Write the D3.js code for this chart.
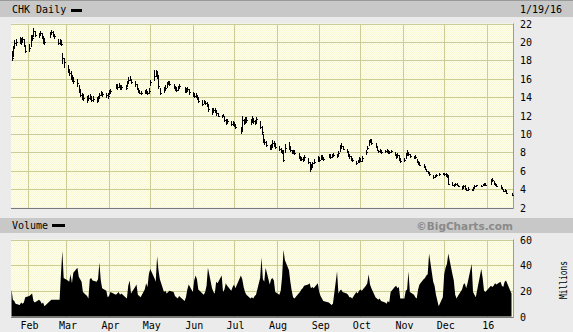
<!DOCTYPE html>
<html>
<head>
<meta charset="utf-8">
<script src="https://cdn.jsdelivr.net/npm/d3@7"></script>
<style>
  body { margin: 0; background: #ebebeb; }
  text { font-family: "DejaVu Sans Mono", monospace; font-size: 10px; }
</style>
</head>
<body>
<div id="chart"></div>
<script>

const TICKER = "CHK Daily";
const AS_OF = "1/19/16";

// NYSE holidays inside the window (trading calendar)
const HOLIDAYS = ["2015-02-16", "2015-04-03", "2015-05-25", "2015-07-03", "2015-09-07",
                  "2015-11-26", "2015-12-25", "2016-01-01", "2016-01-18"];

// daily closes, one row per month (Jan 20 2015 .. Jan 19 2016)
const closes = [
  18.3, 19.3, 19.9, 20.0, 20.2, 20.0, 20.3, 19.6, 19.0,
  19.3, 20.5, 20.4, 21.2, 20.8, 20.7, 21.0, 20.6, 20.1, 20.0, 20.9, 21.1, 20.8, 20.6, 19.9, 20.0, 19.8, 18.2, 17.8,
  16.9, 16.6, 16.2, 16.0, 15.7, 15.5, 14.7, 14.2, 14.0, 13.9, 13.7, 13.9, 14.0, 13.7, 13.8, 13.6, 13.9, 14.2, 14.4, 14.3, 14.2, 14.1,
  14.5, 14.7, 15.2, 15.1, 15.3, 14.9, 15.1, 15.0, 15.5, 15.9, 16.0, 15.6, 15.4, 15.0, 14.6, 14.5, 14.4, 14.5, 14.6, 14.4, 14.7,
  15.6, 16.3, 16.6, 16.4, 15.2, 14.5, 14.9, 15.0, 15.4, 15.6, 15.4, 15.1, 14.9, 14.8, 15.0, 15.2, 14.8, 14.7, 14.9, 14.6,
  14.3, 14.1, 14.2, 13.9, 13.6, 13.3, 13.5, 13.4, 13.2, 12.7, 12.4, 12.6, 12.5, 12.3, 12.0, 11.9, 12.0, 11.5, 11.3, 11.4, 11.1, 11.2,
  11.0, 10.8, 10.3, 11.5, 11.2, 11.6, 11.5, 11.3, 11.7, 11.4, 11.2, 11.6, 10.7, 10.2, 9.2, 9.1, 8.8, 8.5, 8.6, 9.0, 8.9, 8.6,
  8.4, 8.2, 8.0, 7.2, 8.5, 8.7, 8.2, 8.0, 8.1, 7.9, 7.5, 7.3, 7.3, 7.2, 7.5, 7.0, 6.3, 6.4, 6.8, 7.0, 7.4,
  7.2, 7.5, 7.4, 7.3, 7.6, 7.5, 7.6, 7.7, 7.6, 7.9, 8.6, 8.7, 8.4, 8.1, 7.7, 7.6, 7.3, 7.2, 6.8, 7.0, 7.3,
  7.1, 7.4, 8.0, 8.5, 9.1, 9.3, 9.0, 8.7, 8.3, 8.1, 8.2, 8.0, 8.1, 8.2, 7.9, 8.0, 8.1, 7.7, 7.5, 7.7, 7.3, 7.1,
  7.2, 7.7, 7.9, 7.8, 7.6, 7.4, 7.5, 7.0, 6.8, 6.6, 6.5, 6.2, 6.0, 5.8, 5.6, 5.3, 5.4, 5.5, 5.6, 5.7,
  5.6, 5.5, 5.4, 4.6, 4.5, 4.4, 4.6, 4.5, 4.3, 4.1, 4.3, 4.0, 3.9, 4.0, 3.9, 4.1, 4.3, 4.4, 4.3, 4.5, 4.6, 4.5,
  4.9, 5.0, 4.6, 4.5, 4.3, 4.2, 4.0, 3.8, 3.9, 3.6, 3.4
];

const highs = [
  19.0, 19.6, 20.2, 20.3, 20.5, 20.4, 20.5, 20.3, 19.7,
  19.8, 20.7, 20.8, 21.5, 21.2, 21.0, 21.2, 21.0, 20.5, 20.4, 21.1, 21.3, 21.2, 20.9, 20.3, 20.3, 20.2, 18.8, 18.3,
  17.5, 17.1, 16.8, 16.4, 16.2, 16.0, 15.3, 14.9, 14.4, 14.3, 14.1, 14.2, 14.3, 14.1, 14.1, 14.0, 14.1, 14.5, 14.7, 14.6, 14.5, 14.4,
  14.8, 14.9, 15.4, 15.4, 15.5, 15.3, 15.3, 15.3, 15.7, 16.2, 16.3, 16.0, 15.8, 15.4, 15.0, 14.8, 14.7, 14.8, 14.9, 14.7, 15.0,
  15.9, 16.9, 17.0, 16.8, 16.3, 15.0, 15.1, 15.3, 15.6, 15.8, 15.7, 15.4, 15.2, 15.1, 15.2, 15.4, 15.1, 15.0, 15.1, 14.9,
  14.6, 14.4, 14.4, 14.2, 14.0, 13.7, 13.7, 13.6, 13.5, 13.2, 12.8, 12.8, 12.8, 12.6, 12.3, 12.1, 12.2, 11.9, 11.6, 11.6, 11.4, 11.4,
  11.3, 11.1, 10.7, 11.9, 11.6, 11.8, 11.8, 11.6, 11.9, 11.7, 11.5, 11.8, 11.4, 10.9, 10.0, 9.5, 9.2, 8.8, 8.9, 9.3, 9.2, 9.0,
  8.7, 8.5, 8.3, 8.2, 8.9, 9.1, 8.6, 8.3, 8.3, 8.2, 7.9, 7.6, 7.5, 7.5, 7.7, 7.4, 6.9, 6.7, 7.0, 7.3, 7.6,
  7.5, 7.7, 7.7, 7.5, 7.8, 7.8, 7.8, 7.9, 7.8, 8.1, 8.8, 9.0, 8.7, 8.4, 8.0, 7.8, 7.6, 7.4, 7.1, 7.2, 7.5,
  7.4, 7.6, 8.2, 8.7, 9.3, 9.5, 9.4, 9.0, 8.7, 8.3, 8.4, 8.3, 8.3, 8.4, 8.2, 8.1, 8.3, 8.0, 7.8, 7.9, 7.7, 7.4,
  7.4, 7.9, 8.2, 8.0, 7.8, 7.6, 7.7, 7.3, 7.1, 6.9, 6.7, 6.5, 6.2, 6.0, 5.9, 5.5, 5.5, 5.6, 5.7, 5.8,
  5.8, 5.7, 5.6, 5.5, 4.8, 4.6, 4.7, 4.7, 4.5, 4.3, 4.4, 4.4, 4.1, 4.2, 4.0, 4.2, 4.4, 4.5, 4.5, 4.6, 4.7, 4.7,
  5.1, 5.2, 4.9, 4.7, 4.6, 4.4, 4.2, 4.0, 4.0, 3.8, 3.6
];

const lows = [
  17.9, 18.4, 19.2, 19.6, 19.8, 19.7, 19.9, 19.4, 18.8,
  18.9, 19.4, 20.1, 20.5, 20.5, 20.4, 20.6, 20.3, 19.8, 19.7, 20.4, 20.7, 20.5, 20.3, 19.7, 19.7, 19.6, 17.6, 17.2,
  16.6, 16.3, 15.9, 15.6, 15.4, 15.1, 14.5, 14.0, 13.7, 13.6, 13.4, 13.6, 13.7, 13.5, 13.5, 13.4, 13.6, 13.8, 14.1, 14.0, 13.9, 13.8,
  14.2, 14.4, 14.9, 14.8, 15.0, 14.8, 14.8, 14.8, 15.1, 15.5, 15.7, 15.4, 15.1, 14.8, 14.4, 14.3, 14.2, 14.3, 14.3, 14.2, 14.3,
  15.2, 15.8, 16.2, 16.0, 14.9, 14.2, 14.5, 14.7, 15.0, 15.3, 15.2, 14.9, 14.7, 14.6, 14.7, 14.9, 14.5, 14.5, 14.6, 14.2,
  14.0, 13.9, 13.9, 13.7, 13.4, 13.0, 13.2, 13.1, 12.9, 12.4, 12.1, 12.3, 12.3, 12.0, 11.8, 11.7, 11.8, 11.3, 11.0, 11.1, 10.9, 10.9,
  10.7, 10.5, 10.0, 10.2, 11.0, 11.2, 11.2, 11.0, 11.3, 11.1, 11.0, 11.2, 10.5, 9.9, 9.0, 8.8, 8.6, 8.2, 8.3, 8.6, 8.6, 8.4,
  8.1, 7.9, 7.8, 6.9, 7.9, 8.3, 8.0, 7.8, 7.8, 7.7, 7.3, 7.1, 7.1, 7.0, 7.2, 6.7, 5.9, 6.1, 6.4, 6.7, 7.0,
  7.0, 7.2, 7.2, 7.1, 7.4, 7.3, 7.4, 7.5, 7.4, 7.6, 8.0, 8.4, 8.2, 7.9, 7.5, 7.3, 7.1, 6.9, 6.6, 6.8, 7.0,
  6.9, 7.0, 7.7, 8.2, 8.7, 9.0, 8.8, 8.5, 8.2, 7.9, 7.9, 7.8, 7.9, 7.9, 7.8, 7.8, 7.9, 7.6, 7.3, 7.4, 7.1, 6.8,
  6.9, 7.3, 7.6, 7.6, 7.4, 7.3, 7.3, 6.9, 6.6, 6.5, 6.3, 6.1, 5.9, 5.7, 5.4, 5.1, 5.2, 5.3, 5.4, 5.5,
  5.4, 5.3, 5.2, 4.5, 4.3, 4.2, 4.4, 4.3, 4.2, 3.9, 4.0, 3.9, 3.8, 3.8, 3.8, 3.9, 4.1, 4.2, 4.2, 4.3, 4.4, 4.4,
  4.5, 4.8, 4.5, 4.3, 4.2, 4.0, 3.9, 3.7, 3.7, 3.5, 3.3
];

// daily volume, millions of shares
const volumes = [
  21, 13, 12, 10, 9, 11, 10, 11, 15,
  16, 17, 18, 12, 11, 13, 12, 10, 11, 8, 12, 13, 13, 13, 13, 13, 33, 51, 30,
  28, 27, 33, 26, 34, 38, 31, 29, 27, 19, 16, 14, 29, 30, 28, 27, 29, 42, 28, 22, 20, 15,
  16, 19, 17, 18, 19, 17, 18, 15, 14, 24, 28, 18, 23, 25, 17, 16, 15, 21, 26, 23, 33,
  37, 30, 27, 47, 36, 29, 19, 20, 18, 19, 20, 19, 16, 15, 14, 16, 12, 15, 21, 25,
  19, 28, 32, 29, 21, 18, 17, 19, 24, 38, 22, 19, 18, 27, 26, 32, 19, 21, 26, 24, 20, 23,
  25, 22, 32, 29, 23, 19, 17, 14, 15, 14, 16, 17, 30, 46, 29, 27, 38, 25, 29, 30, 28, 19,
  17, 20, 31, 52, 44, 36, 27, 20, 15, 14, 18, 19, 21, 22, 24, 25, 26, 22, 23, 22, 26,
  19, 16, 14, 12, 11, 10, 9, 10, 35, 18, 20, 21, 19, 18, 17, 15, 15, 14, 19, 18, 20,
  21, 20, 24, 26, 33, 25, 22, 15, 14, 13, 14, 12, 11, 10, 12, 11, 19, 23, 24, 22, 23, 14,
  14, 20, 21, 35, 19, 17, 15, 14, 21, 25, 29, 30, 32, 33, 49, 27, 24, 17, 8, 15,
  33, 38, 41, 49, 33, 28, 17, 14, 16, 21, 25, 26, 22, 26, 41, 19, 17, 15, 37, 30, 20, 19,
  24, 23, 24, 26, 25, 27, 24, 23, 27, 28, 18
];

const priceTicks = [2, 4, 6, 8, 10, 12, 14, 16, 18, 20, 22];
const volumeTicks = [0, 20, 40, 60];

const W = 573, H = 332;
const PLOT = { LEFT: 11, RIGHT: 513 };
const PRICE = { TOP: 23.5, BOTTOM: 207.5 };
const VOL = { TOP: 239.5, BOTTOM: 316.5 };
const GRID = "#cccc96";
const BAR_BG = "#c8c8c8";

const fmt = d3.timeFormat("%Y-%m-%d");
const days = d3.timeDay.range(new Date(2015, 0, 20), new Date(2016, 0, 20))
    .filter(d => d.getDay() !== 0 && d.getDay() !== 6 && !HOLIDAYS.includes(fmt(d)));

const data = days.map((d, i) => ({
    date: d, hi: highs[i], lo: lows[i], cl: closes[i], vol: volumes[i]
}));

const svg = d3.select("#chart")
    .append("svg")
    .attr("width", W)
    .attr("height", H)
    .style("display", "block");

svg.append("rect").attr("width", W).attr("height", H).attr("fill", "#ebebeb");

// dithered yellow plot background
const defs = svg.append("defs");
const pat = defs.append("pattern")
    .attr("id", "dither")
    .attr("width", 2).attr("height", 2)
    .attr("patternUnits", "userSpaceOnUse");
pat.append("rect").attr("width", 2).attr("height", 2).attr("fill", "#ffffee");
pat.append("rect").attr("width", 1).attr("height", 1).attr("fill", "#f7f7d2");
pat.append("rect").attr("x", 1).attr("y", 1).attr("width", 1).attr("height", 1).attr("fill", "#f7f7d2");

const x = d3.scaleTime()
    .domain([new Date(2015, 0, 20), new Date(2016, 0, 19)])
    .range([PLOT.LEFT + 0.5, PLOT.RIGHT - 1.5]);

const yPrice = d3.scaleLinear().domain([2, 22]).range([PRICE.BOTTOM, PRICE.TOP]);
const yVol = d3.scaleLinear().domain([0, 60]).range([VOL.BOTTOM, VOL.TOP]);

const months = d3.timeMonth.range(new Date(2015, 1, 1), new Date(2016, 0, 2));

// header bars
function headerBar(y, h) {
    svg.append("rect").attr("x", 0).attr("y", y).attr("width", W).attr("height", h).attr("fill", BAR_BG);
}
headerBar(0, 17);
svg.append("line").attr("x1", 0).attr("x2", W).attr("y1", 0.5).attr("y2", 0.5).attr("stroke", "#9a9a9a");
headerBar(218, 15);

svg.append("text").attr("x", 12).attr("y", 13).text(TICKER);
svg.append("rect").attr("x", 71).attr("y", 9).attr("width", 11).attr("height", 3).attr("fill", "#000");
svg.append("text").attr("x", 520).attr("y", 13).text(AS_OF);

svg.append("text").attr("x", 12).attr("y", 229).text("Volume");
svg.append("rect").attr("x", 52).attr("y", 224).attr("width", 13).attr("height", 3).attr("fill", "#000");
svg.append("text")
    .attr("x", PLOT.RIGHT).attr("y", 229.5)
    .attr("text-anchor", "end")
    .style("font-family", "'DejaVu Sans', sans-serif")
    .style("font-weight", "bold")
    .style("font-size", "10.5px")
    .attr("fill", "#8a8a8a")
    .text("\u00a9BigCharts.com");

// panels
function panel(top, bottom, yScale, ticks) {
    const h = bottom - top;
    svg.append("rect")
        .attr("x", PLOT.LEFT).attr("y", top)
        .attr("width", PLOT.RIGHT - PLOT.LEFT).attr("height", h)
        .attr("fill", "url(#dither)");

    // vertical month grid
    svg.append("g")
        .attr("transform", `translate(0, ${bottom})`)
        .call(d3.axisBottom(x).tickValues(months).tickSize(-h).tickFormat(""))
        .call(g => g.select(".domain").remove())
        .selectAll("line")
        .attr("stroke", GRID)
        .style("shape-rendering", "crispEdges");

    // horizontal grid + right labels
    const g = svg.append("g")
        .attr("transform", `translate(${PLOT.RIGHT}, 0)`)
        .call(d3.axisRight(yScale).tickValues(ticks).tickSize(-(PLOT.RIGHT - PLOT.LEFT)).tickPadding(7));
    g.select(".domain").remove();
    g.selectAll("line").attr("stroke", GRID).style("shape-rendering", "crispEdges");
    g.selectAll("text").attr("dy", "0.35em").style("font-size", "10px").attr("fill", "#000");

    // shadow edges
    svg.append("line")
        .attr("x1", PLOT.LEFT).attr("x2", PLOT.RIGHT + 1)
        .attr("y1", bottom + 1).attr("y2", bottom + 1)
        .attr("stroke", "#7a7a7a").style("shape-rendering", "crispEdges");
    svg.append("line")
        .attr("x1", PLOT.RIGHT + 0.5).attr("x2", PLOT.RIGHT + 0.5)
        .attr("y1", top).attr("y2", bottom + 1.5)
        .attr("stroke", "#9a9a9a");
}

panel(PRICE.TOP, PRICE.BOTTOM, yPrice, priceTicks);
panel(VOL.TOP, VOL.BOTTOM, yVol, volumeTicks);

// price bars (high-low with close tick)
const bars = svg.append("g").attr("stroke", "#000").style("shape-rendering", "crispEdges");
bars.selectAll(".hl")
    .data(data)
    .enter().append("line")
    .attr("class", "hl")
    .attr("x1", d => Math.round(x(d.date)) + 0.5)
    .attr("x2", d => Math.round(x(d.date)) + 0.5)
    .attr("y1", d => yPrice(d.hi))
    .attr("y2", d => yPrice(d.lo));
bars.selectAll(".cl")
    .data(data)
    .enter().append("line")
    .attr("class", "cl")
    .attr("x1", d => Math.round(x(d.date)))
    .attr("x2", d => Math.round(x(d.date)) + 2)
    .attr("y1", d => Math.round(yPrice(d.cl)) + 0.5)
    .attr("y2", d => Math.round(yPrice(d.cl)) + 0.5);

// volume area
const area = d3.area()
    .x(d => x(d.date))
    .y0(yVol(0))
    .y1(d => yVol(d.vol));

svg.append("path")
    .datum(data)
    .attr("d", area)
    .attr("fill", "#000");

// month labels
svg.append("g")
    .attr("transform", `translate(1, ${VOL.BOTTOM})`)
    .call(d3.axisBottom(x).tickValues(months).tickSize(0).tickPadding(5)
        .tickFormat(d => d.getMonth() === 0 ? d3.timeFormat("%y")(d) : d3.timeFormat("%b")(d)))
    .call(g => g.select(".domain").remove())
    .selectAll("text")
    .style("font-size", "10px")
    .attr("fill", "#000");

svg.append("text")
    .attr("transform", `translate(567, 280) rotate(-90)`)
    .attr("text-anchor", "middle")
    .attr("textLength", 38)
    .attr("lengthAdjust", "spacingAndGlyphs")
    .text("Millions");

</script>
</body>
</html>
